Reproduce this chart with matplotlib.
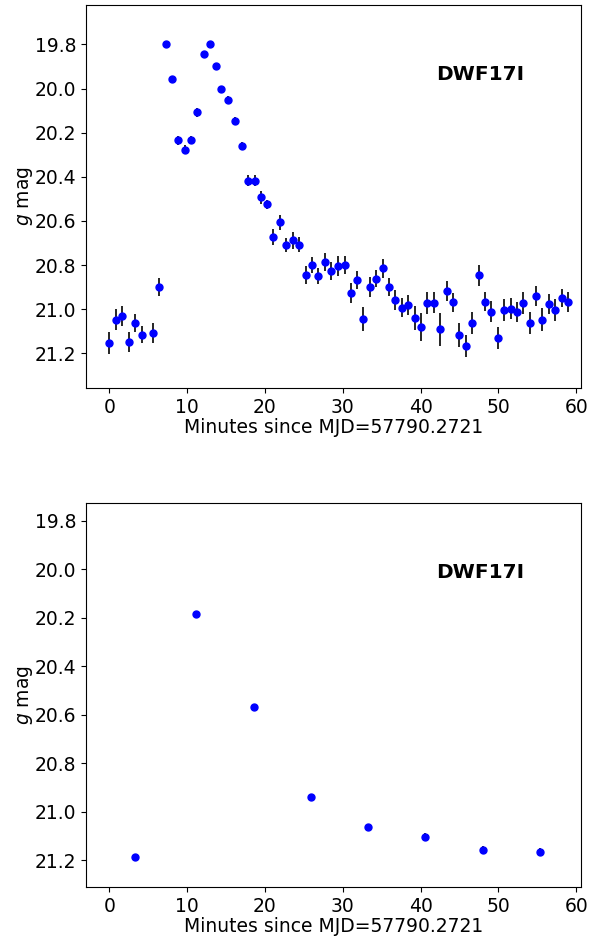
import numpy as np
import matplotlib.pyplot as plt

# DWF17I g-band light curve, minutes since MJD=57790.2721
t_min = [0.0, 0.80, 1.69, 2.50, 3.31, 4.17, 5.62, 6.44, 7.28, 8.01,
         8.82, 9.68, 10.49, 11.31, 12.12, 12.92, 13.69, 14.33, 15.30, 16.10,
         17.00, 17.85, 18.69, 19.55, 20.32, 21.09, 21.95, 22.76, 23.56, 24.38,
         25.23, 26.05, 26.86, 27.72, 28.53, 29.38, 30.23, 31.05, 31.86, 32.63,
         33.44, 34.29, 35.10, 35.92, 36.73, 37.54, 38.40, 39.21, 40.03, 40.88,
         41.73, 42.50, 43.36, 44.17, 44.97, 45.79, 46.60, 47.46, 48.27, 49.08,
         49.94, 50.74, 51.56, 52.37, 53.17, 53.99, 54.83, 55.65, 56.46, 57.27,
         58.13, 58.94]
g_mag = [21.153, 21.047, 21.032, 21.148, 21.062, 21.115, 21.108, 20.899, 19.800, 19.955,
         20.235, 20.277, 20.233, 20.108, 19.842, 19.800, 19.899, 20.003, 20.050, 20.147,
         20.260, 20.418, 20.418, 20.493, 20.524, 20.672, 20.607, 20.711, 20.688, 20.707,
         20.846, 20.800, 20.849, 20.787, 20.826, 20.805, 20.800, 20.926, 20.869, 21.045,
         20.899, 20.861, 20.815, 20.899, 20.959, 20.994, 20.982, 21.040, 21.080, 20.970,
         20.970, 21.091, 20.917, 20.968, 21.117, 21.165, 21.064, 20.846, 20.967, 21.012,
         21.130, 21.003, 20.997, 21.014, 20.972, 21.064, 20.941, 21.047, 20.976, 21.005,
         20.949, 20.968]
g_err = [0.050, 0.047, 0.045, 0.045, 0.040, 0.040, 0.045, 0.040, 0.010, 0.010,
         0.020, 0.020, 0.020, 0.020, 0.010, 0.010, 0.015, 0.015, 0.015, 0.020,
         0.020, 0.025, 0.025, 0.029, 0.020, 0.036, 0.035, 0.032, 0.038, 0.034,
         0.041, 0.038, 0.038, 0.040, 0.040, 0.044, 0.040, 0.044, 0.040, 0.055,
         0.044, 0.038, 0.043, 0.042, 0.045, 0.043, 0.045, 0.053, 0.062, 0.050,
         0.048, 0.075, 0.045, 0.043, 0.053, 0.050, 0.050, 0.047, 0.043, 0.047,
         0.050, 0.050, 0.047, 0.045, 0.049, 0.050, 0.044, 0.053, 0.047, 0.050,
         0.042, 0.045]

# binned light curve
t_bin = [3.33, 11.20, 18.60, 25.90, 33.20, 40.60, 47.95, 55.30]
g_bin = [21.187, 20.186, 20.569, 20.938, 21.063, 21.102, 21.157, 21.167]
g_bin_err = [0.015, 0.008, 0.010, 0.013, 0.012, 0.014, 0.016, 0.016]

name = 'DWF17I'
xlabel = 'Minutes since MJD=57790.2721'
yticks = [19.8, 20.0, 20.2, 20.4, 20.6, 20.8, 21.0, 21.2]
xticks = [0, 10, 20, 30, 40, 50, 60]

fig = plt.figure(figsize=(6, 9.38), dpi=100)
ax1 = fig.add_axes([0.1433, 0.5864, 0.825, 0.4083])
ax2 = fig.add_axes([0.1433, 0.0544, 0.825, 0.4094])


def draw_panel(ax, t, m, e, ylim):
    ax.errorbar(t, m, yerr=e, fmt='o', color='blue', ms=5,
                ecolor='black', elinewidth=1.2, capsize=0)
    ax.set_xlim(-3, 60.6)
    ax.set_ylim(*ylim)
    ax.set_xticks(xticks)
    ax.set_yticks(yticks)
    ax.set_yticklabels(['%.1f' % v for v in yticks])
    ax.tick_params(labelsize=13.5)
    ax.set_xlabel(xlabel, fontsize=13.5, labelpad=1)
    ax.set_ylabel(r'$g$ mag', fontsize=13.5, labelpad=0)
    ax.text(0.797, 0.818, name, transform=ax.transAxes, ha='center',
            va='center', fontsize=14.5, fontweight='bold')


draw_panel(ax1, t_min, g_mag, g_err, (21.357, 19.621))
draw_panel(ax2, t_bin, g_bin, g_bin_err, (21.31, 19.726))

fig.savefig('out.png', dpi=100)
